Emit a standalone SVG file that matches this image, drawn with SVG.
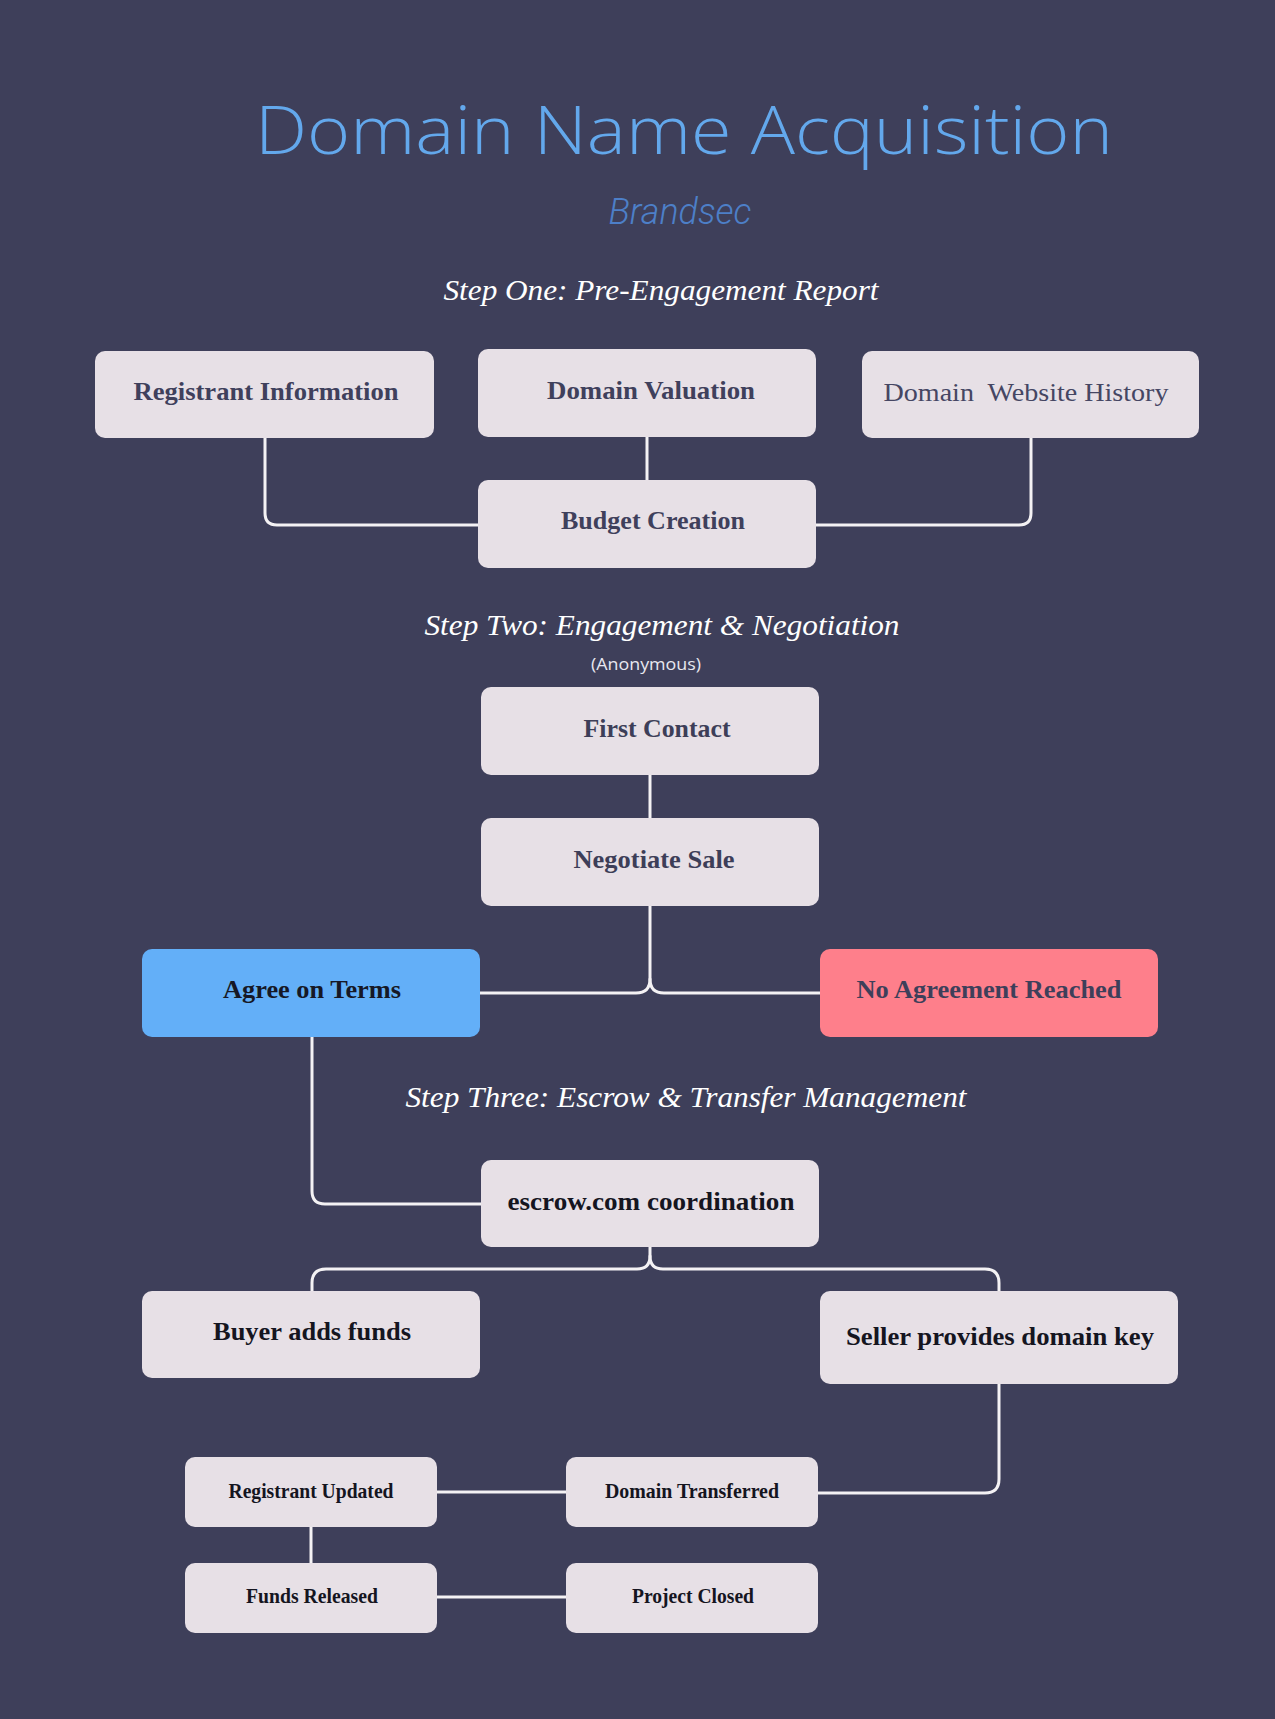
<svg xmlns="http://www.w3.org/2000/svg" width="1275" height="1719" viewBox="0 0 1275 1719">
<style>
.node{fill:#e7e0e6}
.lbl{font-family:"Liberation Serif",serif;font-weight:bold;font-size:25px;text-anchor:middle}
.reg{font-weight:normal;font-size:26px}
.small{font-size:21px}
.step{font-family:"Liberation Serif",serif;font-style:italic;font-size:30px;fill:#ffffff;text-anchor:middle}
.conn{fill:none;stroke:#f4f2f4;stroke-width:3;stroke-linecap:round}
</style>
<rect x="0" y="0" width="1275" height="1719" fill="#3e3f5a"/>
<text x="684" y="154" font-family="'Open Sans',sans-serif" font-weight="300" font-size="66" fill="#63a8ec" text-anchor="middle" textLength="858" lengthAdjust="spacingAndGlyphs">Domain Name Acquisition</text>
<text x="680" y="224" font-family="Roboto,sans-serif" font-style="italic" font-weight="300" font-size="36" fill="#4d7fc8" text-anchor="middle" textLength="143" lengthAdjust="spacingAndGlyphs">Brandsec</text>
<text class="step" x="661" y="300" textLength="435" lengthAdjust="spacingAndGlyphs">Step One: Pre-Engagement Report</text>
<text class="step" x="662" y="635" textLength="475" lengthAdjust="spacingAndGlyphs">Step Two: Engagement &amp; Negotiation</text>
<text x="646" y="670" font-family="'Open Sans',sans-serif" font-size="17" fill="#e8e8f0" text-anchor="middle" textLength="110" lengthAdjust="spacingAndGlyphs">(Anonymous)</text>
<text class="step" x="686" y="1107" textLength="561" lengthAdjust="spacingAndGlyphs">Step Three: Escrow &amp; Transfer Management</text>

<g id="connectors">
<path class="conn" d="M265,438 V513 Q265,525 277,525 H479"/>
<path class="conn" d="M647,437 V480"/>
<path class="conn" d="M1031,438 V513 Q1031,525 1019,525 H816"/>
<path class="conn" d="M650,775 V818"/>
<path class="conn" d="M650,906 V979 Q650,993 636,993 H480"/>
<path class="conn" d="M650,979 Q650,993 664,993 H820"/>
<path class="conn" d="M312,1037 V1191 Q312,1204 325,1204 H481"/>
<path class="conn" d="M650,1247 V1256 Q650,1269 637,1269 H326 Q312,1269 312,1283 V1291"/>
<path class="conn" d="M650,1256 Q650,1269 663,1269 H985 Q999,1269 999,1283 V1291"/>
<path class="conn" d="M999,1384 V1479 Q999,1493 985,1493 H818"/>
<path class="conn" d="M437,1492 H566"/>
<path class="conn" d="M311,1527 V1563"/>
<path class="conn" d="M437,1597 H566"/>
</g>

<g id="registrant-information"><rect class="node" x="95" y="351" width="339" height="87" rx="10"/><text class="lbl" x="266" y="400" fill="#3f405c" textLength="265" lengthAdjust="spacingAndGlyphs">Registrant Information</text></g>
<g id="domain-valuation"><rect class="node" x="478" y="349" width="338" height="88" rx="10"/><text class="lbl" x="651" y="399" fill="#3f405c" textLength="208" lengthAdjust="spacingAndGlyphs">Domain Valuation</text></g>
<g id="domain-website-history"><rect class="node" x="862" y="351" width="337" height="87" rx="10"/><text class="lbl reg" x="1026" y="401" fill="#454663" textLength="285" lengthAdjust="spacingAndGlyphs" xml:space="preserve">Domain  Website History</text></g>
<g id="budget-creation"><rect class="node" x="478" y="480" width="338" height="88" rx="10"/><text class="lbl" x="653" y="529" fill="#3f405c" textLength="184" lengthAdjust="spacingAndGlyphs">Budget Creation</text></g>

<g id="first-contact"><rect class="node" x="481" y="687" width="338" height="88" rx="10"/><text class="lbl" x="657" y="737" fill="#3d3e58" textLength="147" lengthAdjust="spacingAndGlyphs">First Contact</text></g>
<g id="negotiate-sale"><rect class="node" x="481" y="818" width="338" height="88" rx="10"/><text class="lbl" x="654" y="868" fill="#3d3e58" textLength="161" lengthAdjust="spacingAndGlyphs">Negotiate Sale</text></g>
<g id="agree-on-terms"><rect x="142" y="949" width="338" height="88" rx="10" fill="#63aff8"/><text class="lbl" x="312" y="998" fill="#161826" textLength="178" lengthAdjust="spacingAndGlyphs">Agree on Terms</text></g>
<g id="no-agreement-reached"><rect x="820" y="949" width="338" height="88" rx="10" fill="#fe7f8b"/><text class="lbl" x="989" y="998" fill="#3e3f5a" textLength="265" lengthAdjust="spacingAndGlyphs">No Agreement Reached</text></g>

<g id="escrow-coordination"><rect class="node" x="481" y="1160" width="338" height="87" rx="10"/><text class="lbl" x="651" y="1210" fill="#15151f" textLength="287" lengthAdjust="spacingAndGlyphs">escrow.com coordination</text></g>
<g id="buyer-adds-funds"><rect class="node" x="142" y="1291" width="338" height="87" rx="10"/><text class="lbl" x="312" y="1340" fill="#15151f" textLength="198" lengthAdjust="spacingAndGlyphs">Buyer adds funds</text></g>
<g id="seller-provides-domain-key"><rect class="node" x="820" y="1291" width="358" height="93" rx="10"/><text class="lbl" x="1000" y="1345" fill="#15151f" textLength="308" lengthAdjust="spacingAndGlyphs">Seller provides domain key</text></g>

<g id="registrant-updated"><rect class="node" x="185" y="1457" width="252" height="70" rx="10"/><text class="lbl small" x="311" y="1498" fill="#15151f" textLength="165" lengthAdjust="spacingAndGlyphs">Registrant Updated</text></g>
<g id="domain-transferred"><rect class="node" x="566" y="1457" width="252" height="70" rx="10"/><text class="lbl small" x="692" y="1498" fill="#15151f" textLength="174" lengthAdjust="spacingAndGlyphs">Domain Transferred</text></g>
<g id="funds-released"><rect class="node" x="185" y="1563" width="252" height="70" rx="10"/><text class="lbl small" x="312" y="1603" fill="#15151f" textLength="132" lengthAdjust="spacingAndGlyphs">Funds Released</text></g>
<g id="project-closed"><rect class="node" x="566" y="1563" width="252" height="70" rx="10"/><text class="lbl small" x="693" y="1603" fill="#15151f" textLength="122" lengthAdjust="spacingAndGlyphs">Project Closed</text></g>
</svg>
